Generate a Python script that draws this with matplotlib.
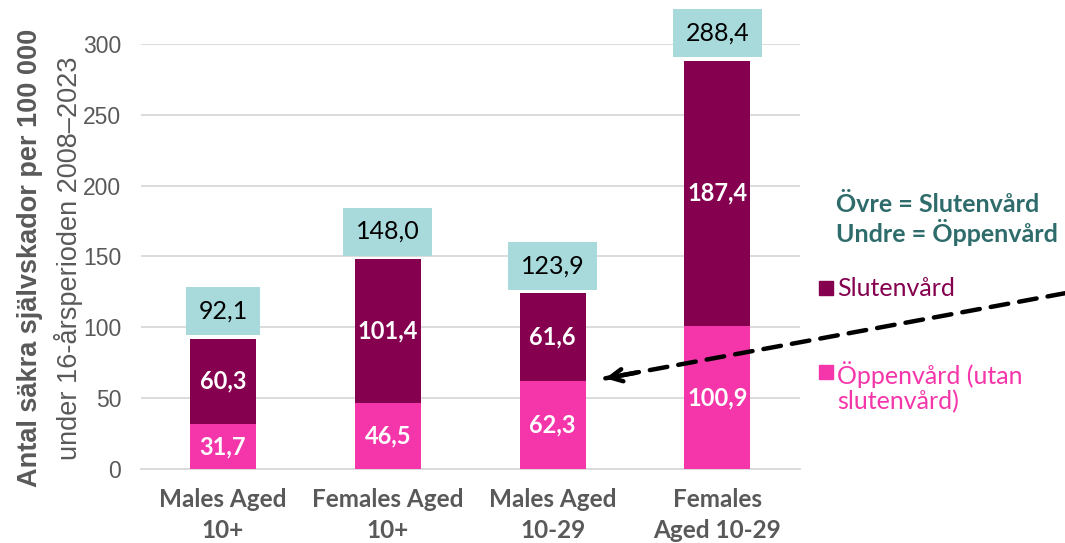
import matplotlib.pyplot as plt
from matplotlib.patches import Rectangle

# data
categories = ["Males Aged\n10+", "Females Aged\n10+", "Males Aged\n10-29", "Females\nAged 10-29"]
oppenvard = [31.7, 46.5, 62.3, 100.9]
slutenvard = [60.3, 101.4, 61.6, 187.4]
totals = [92.1, 148.0, 123.9, 288.4]
yticks = [0, 50, 100, 150, 200, 250, 300]

c_sluten = "#85004f"
c_oppen = "#f535aa"
c_box = "#a8dadc"
c_gray = "#595959"
c_teal = "#2e6b6b"

def sv(v):
    return f"{v:.1f}".replace(".", ",")

fig = plt.figure(figsize=(10.65, 5.43), dpi=100)
ax = fig.add_axes([0.132, 0.1363, 0.619, 0.7827])

x = range(len(categories))
ax.bar(x, oppenvard, width=0.4, color=c_oppen, zorder=3)
ax.bar(x, slutenvard, width=0.4, bottom=oppenvard, color=c_sluten, zorder=3)

# labels inside segments
for i in x:
    ax.text(i, oppenvard[i] / 2, sv(oppenvard[i]), ha="center", va="center",
            color="white", fontsize=17, family="Lato", fontweight="bold", zorder=4)
    ax.text(i, oppenvard[i] + slutenvard[i] / 2, sv(slutenvard[i]), ha="center", va="center",
            color="white", fontsize=17, family="Lato", fontweight="bold", zorder=4)
    ax.annotate(sv(totals[i]), xy=(i, totals[i]), xytext=(0, 20), textcoords="offset points",
                ha="center", va="center", fontsize=18, family="Lato", color="black",
                bbox=dict(boxstyle="square,pad=0.5", fc=c_box, ec="none"), zorder=5,
                annotation_clip=False)

ax.set_xlim(-0.5, 3.5)
ax.set_ylim(0, 300)
ax.set_yticks(yticks)
ax.set_yticklabels([str(t) for t in yticks], fontsize=16.5, color=c_gray, family="Liberation Sans")
ax.set_xticks(list(x))
ax.set_xticklabels(categories, fontsize=17.5, color=c_gray, family="Lato", fontweight="bold",
                   linespacing=1.4)
ax.tick_params(axis="y", length=0, pad=14)
ax.tick_params(axis="x", length=0, pad=14)
ax.yaxis.grid(True, color="#d9d9d9", lw=1.3, zorder=0)
for s in ["top", "right", "left"]:
    ax.spines[s].set_visible(False)
ax.spines["bottom"].set_color("#d9d9d9")
ax.spines["bottom"].set_linewidth(1.3)

# y axis label, two lines
fig.text(0.028, 0.525, "Antal säkra självskador per 100 000", rotation=90, ha="center", va="center",
         fontsize=19.5, fontweight="bold", color=c_gray, family="Liberation Sans")
fig.text(0.064, 0.525, "under 16-årsperioden 2008–2023", rotation=90, ha="center", va="center",
         fontsize=19.5, color=c_gray, family="Liberation Sans")

# note and legend
fig.text(0.785, 0.596, "Övre = Slutenvård\nUndre = Öppenvård", ha="left", va="center",
         fontsize=18, fontweight="bold", color=c_teal, family="Lato", linespacing=1.15)
fig.add_artist(Rectangle((0.769, 0.457), 0.013, 0.026, transform=fig.transFigure, color=c_sluten))
fig.text(0.786, 0.469, "Slutenvård", ha="left", va="center", fontsize=18, color=c_sluten, family="Lato")
fig.add_artist(Rectangle((0.769, 0.302), 0.013, 0.026, transform=fig.transFigure, color=c_oppen))
fig.text(0.786, 0.287, "Öppenvård (utan\nslutenvård)", ha="left", va="center", fontsize=18,
         color=c_oppen, family="Lato", linespacing=1.1)

# dashed arrow
ax.annotate("", xy=(2.32, 64), xycoords="data", xytext=(1.0, 0.46), textcoords="figure fraction",
            arrowprops=dict(arrowstyle="-", linestyle=(0, (4, 2.5)), lw=3.2, color="black",
                            shrinkA=0, shrinkB=0), annotation_clip=False)
ax.annotate("", xy=(2.32, 64), xycoords="data", xytext=(22, 4), textcoords="offset points",
            arrowprops=dict(arrowstyle="->", lw=3.2, color="black", mutation_scale=22,
                            shrinkA=0, shrinkB=0), annotation_clip=False)

fig.savefig("out.png", dpi=100)
